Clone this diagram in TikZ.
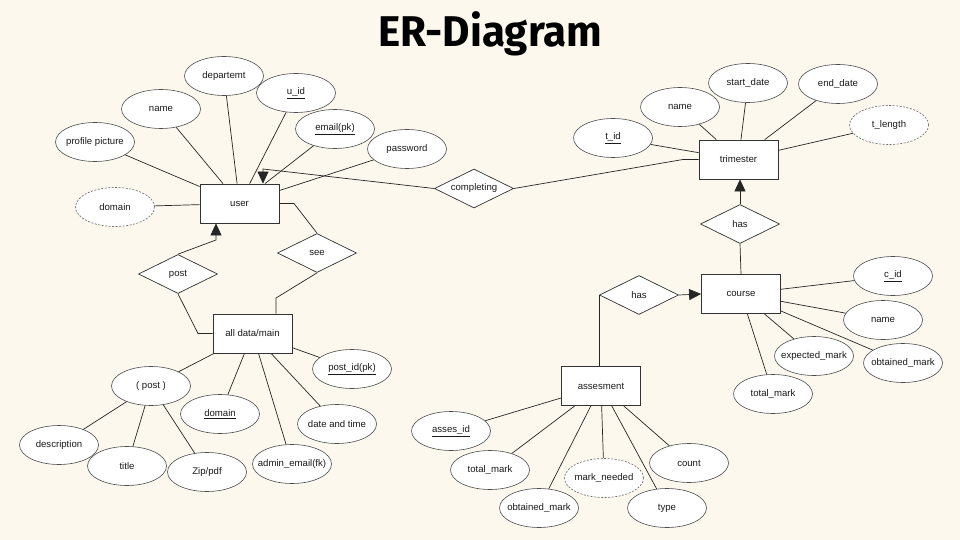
\documentclass[tikz,border=0pt]{standalone}
\usepackage{fontspec}
\setmainfont{Liberation Sans}
\newfontfamily\titlefont{Fira Sans}
\usetikzlibrary{shapes.geometric,arrows.meta}
\definecolor{bg}{HTML}{FDF8EE}
\definecolor{ink}{HTML}{1A1A1A}
\tikzset{
  base/.style={font=\fontsize{9.6}{11}\selectfont, text=ink, inner sep=0pt,
    execute at begin node={\hbox to 0pt\bgroup\hss}, execute at end node={\hss\egroup}},
  attr/.style={base, ellipse, draw=black!70, line width=0.6pt, fill=white, minimum width=79pt, minimum height=39pt},
  dattr/.style={attr, dash pattern=on 2pt off 1.5pt, draw=black!60},
  ent/.style={base, rectangle, draw=black!80, line width=0.8pt, fill=white, minimum width=79pt, minimum height=39pt},
  rel/.style={base, diamond, draw=black!80, line width=0.7pt, fill=white, minimum width=79pt, minimum height=39pt},
  conn/.style={draw=black!85, line width=0.7pt},
  arr/.style={conn, -{Triangle[length=12pt,width=11pt]}}
}
\begin{document}
\begin{tikzpicture}[x=1pt,y=-1pt]
\fill[bg] (0,0) rectangle (960,540);
\useasboundingbox (0,0) rectangle (960,540);

\node[anchor=base, font=\titlefont\bfseries\fontsize{43}{50}\selectfont, text=black, inner sep=0pt] (title) at (490.5,47) {\scalebox{0.98}[1]{ER-Diagram}};

% user
\node[ent] (user) at (239.5,203.5) {user};
\node[attr] (profile) at (95,142) {profile picture};
\node[attr] (uname) at (161,109) {name};
\node[attr] (dept) at (224,76) {departemt};
\node[attr] (uid) at (296,93) {\underline{u\_id}};
\node[attr] (email) at (335,129) {\underline{email(pk)}};
\node[attr] (pass) at (407,149) {password};
\node[dattr] (udomain) at (115,207) {domain};

\foreach \a in {profile,uname,dept,uid,email,pass,udomain} \draw[conn] (\a) -- (user);

% completing
\node[rel] (compl) at (474,188.5) {completing};

% trimester
\node[ent] (trim) at (738.5,159.5) {trimester};
\node[attr] (tid) at (613,138) {\underline{t\_id}};
\node[attr] (tname) at (680,107) {name};
\node[attr] (tstart) at (748,83) {start\_date};
\node[attr] (tend) at (838,84) {end\_date};
\node[dattr] (tlen) at (889,125) {t\_length};
\foreach \a in {tid,tname,tstart,tend,tlen} \draw[conn] (\a) -- (trim);

\coordinate (c1) at (263,169);
\draw[arr] (compl.west) -- (c1) -- (c1 |- user.north);
\coordinate (c2) at (683,159.5);
\draw[conn] (compl.east) -- (c2) -- (trim.west);

% has (trimester-course)
\node[rel] (has1) at (740,224) {has};
\node[ent] (course) at (741,294) {course};
\draw[arr] (has1.north) -- (has1.north |- trim.south);
\draw[conn] (has1.south) -- (course.north);

\node[attr] (cid) at (893,276) {\underline{c\_id}};
\node[attr] (cname) at (883,320) {name};
\node[attr] (cexp) at (814,356) {expected\_mark};
\node[attr] (cobt) at (903,363) {obtained\_mark};
\node[attr] (ctot) at (773,394) {total\_mark};
\foreach \a in {cid,cname,cexp,cobt,ctot} \draw[conn] (course) -- (\a);

% has (assesment-course)
\node[rel] (has2) at (639,295) {has};
\node[ent] (assess) at (601,386) {assesment};
\draw[arr] (has2.east) -- (course.west);
\draw[conn] (has2.west) -- (has2.west |- assess.north);

\node[attr] (aid) at (451,431) {\underline{asses\_id}};
\node[attr] (atot) at (490,470) {total\_mark};
\node[attr] (aobt) at (539,508) {obtained\_mark};
\node[dattr] (aneed) at (604,478) {mark\_needed};
\node[attr] (atype) at (667,508) {type};
\node[attr] (acount) at (689,463) {count};
\foreach \a in {aid,atot,aobt,aneed,atype,acount} \draw[conn] (assess) -- (\a);

% post / see
\node[rel] (post) at (178,274) {post};
\node[rel] (see) at (317,253) {see};
\node[ent] (all) at (252.5,333.5) {all data/main};

\coordinate (p1) at (216,240);
\draw[arr] (post.north) -- (p1) -- (p1 |- user.south);
\coordinate (p2) at (198,333.5);
\draw[conn] (post.south) -- (p2) -- (all.west);

\coordinate (s1) at (294,203.5);
\draw[conn] (user.east) -- (s1) -- (see.north);
\coordinate (s2) at (276,298);
\draw[conn] (see.south) -- (s2) -- (s2 |- all.north);

\node[attr] (ppost) at (151,386) {( post )};
\node[attr] (adom) at (220,414) {\underline{domain}};
\node[attr] (apid) at (352,369) {\underline{post\_id(pk)}};
\node[attr] (adt) at (337,424) {date and time};
\node[attr] (aadm) at (292,464) {admin\_email(fk)};
\foreach \a in {ppost,adom,apid,adt,aadm} \draw[conn] (all) -- (\a);

\node[attr] (pdesc) at (59,445) {description};
\node[attr] (ptitle) at (127,466) {title};
\node[attr] (pzip) at (207,472) {Zip/pdf};
\foreach \a in {pdesc,ptitle,pzip} \draw[conn] (ppost) -- (\a);
\end{tikzpicture}
\end{document}
